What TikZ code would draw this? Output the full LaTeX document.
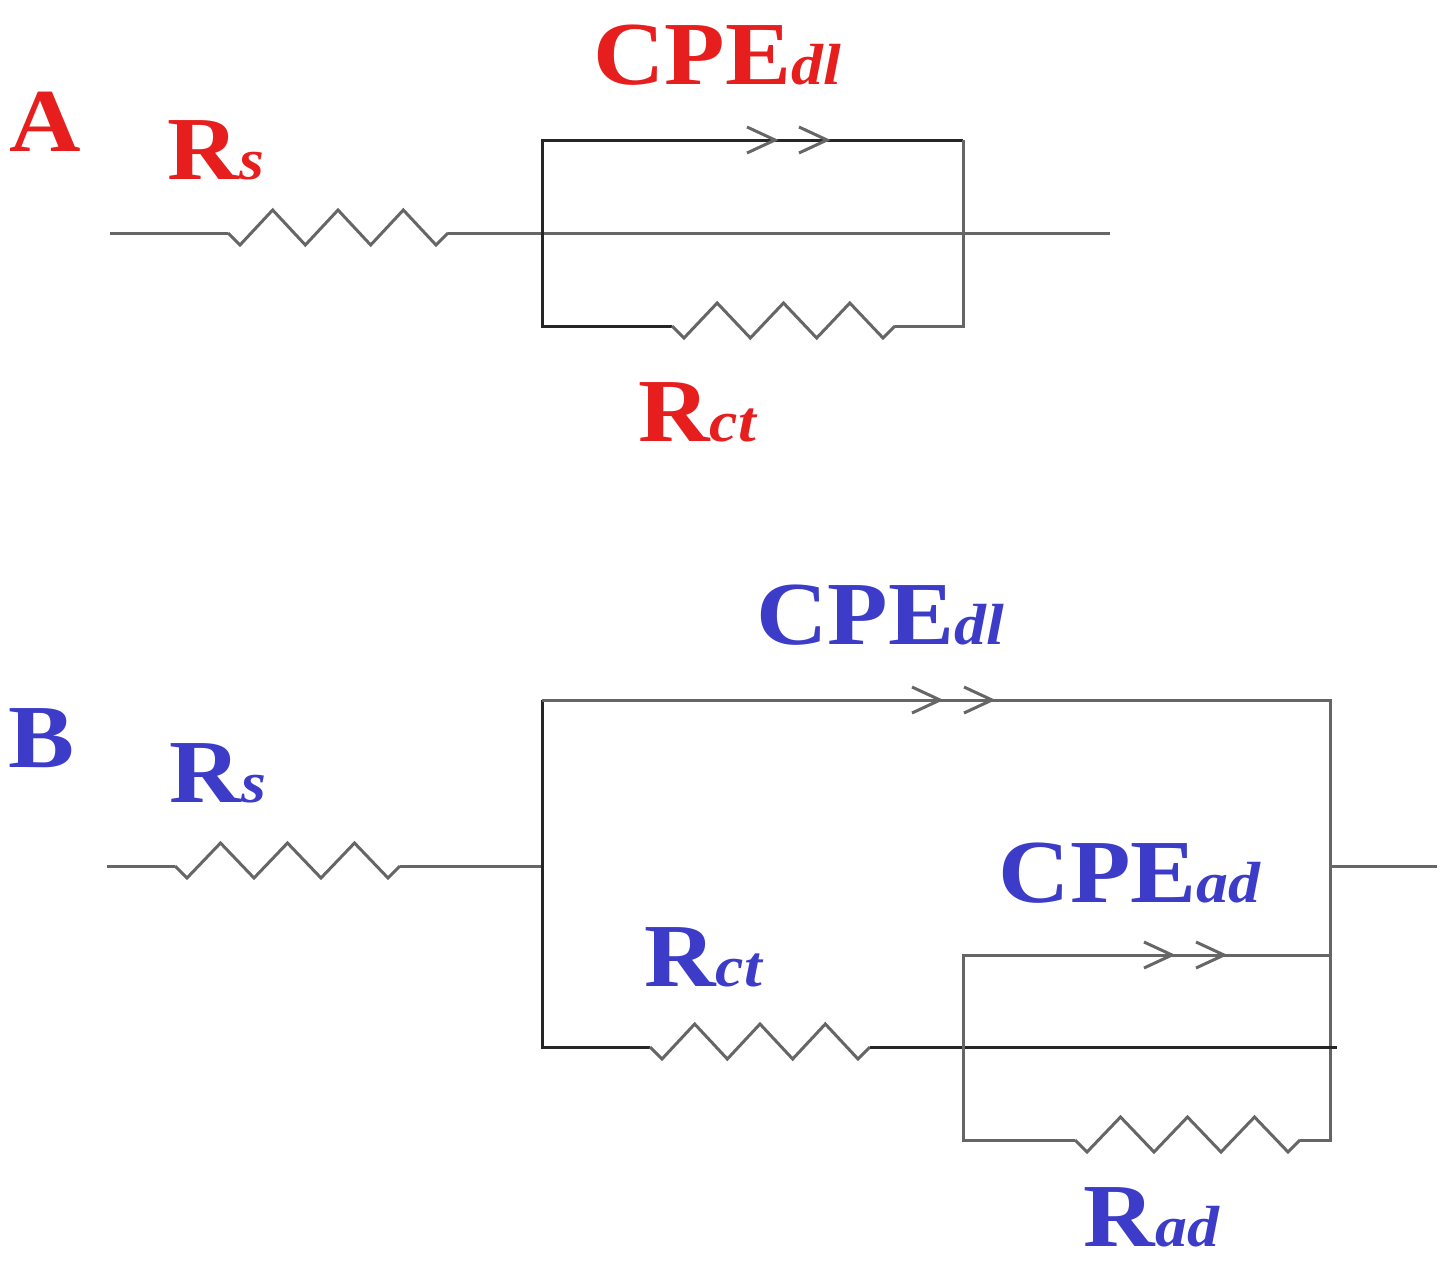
\documentclass[tikz,border=0pt]{standalone}
\usepackage{fontspec}
\setmainfont{Liberation Serif}
\begin{document}
\begin{tikzpicture}[x=1pt,y=-1pt,
  w/.style={line width=3pt,color=black!60},
  wd/.style={line width=3pt,color=black!85},
  lab/.style={font=\fontsize{90}{90}\selectfont\bfseries,inner sep=0pt,xscale=1.1},
  red/.style={text={rgb,255:red,230;green,30;blue,30}},
  blu/.style={text={rgb,255:red,60;green,60;blue,200}}]
\useasboundingbox (0,0) rectangle (1455,1271);
\newcommand{\subx}[1]{\textit{\fontsize{58}{58}\selectfont #1}}
\newcommand{\zz}[3]{% x1 x2 y
  \draw[w] (#1,#3) -- ++(12,12) -- ++({((#2-#1)-24)/6},-35) -- ++({((#2-#1)-24)/6},35)
    -- ++({((#2-#1)-24)/6},-35) -- ++({((#2-#1)-24)/6},35)
    -- ++({((#2-#1)-24)/6},-35) -- ++({((#2-#1)-24)/6},35) -- (#2,#3);}
\newcommand{\chev}[2]{% x y (tip of first)
  \draw[w] (#1-28,#2-13) -- (#1,#2) -- (#1-28,#2+13);
  \draw[w] (#1+24,#2-13) -- (#1+52,#2) -- (#1+24,#2+13);}
% Circuit A
\draw[w] (110,233) -- (228,233); \zz{228}{448}{233}
\draw[w] (448,233) -- (1110,233);
\draw[wd] (963,140) -- (542,140) -- (542,326) -- (672,326);
\draw[w] (963,140) -- (963,326) -- (895,326);
\zz{672}{895}{326}
\chev{775}{140}
\node[lab,red] at (45,122) {A};
\node[lab,red] at (216,150) {R\subx{s}};
\node[lab,red] at (717,55) {CPE\subx{dl}};
\node[lab,red] at (698,412) {R\subx{ct}};
% Circuit B
\draw[w] (107,866) -- (175,866); \zz{175}{400}{866}
\draw[w] (400,866) -- (542,866);
\draw[w] (1330,866) -- (1437,866);
\draw[wd] (542,700) -- (542,1047) -- (650,1047);
\draw[w] (542,700) -- (1330,700) -- (1330,1140) -- (1300,1140);
\zz{650}{870}{1047}
\draw[wd] (870,1047) -- (1337,1047);
\draw[w] (1330,955) -- (963,955) -- (963,1140) -- (1075,1140);
\zz{1075}{1300}{1140}
\chev{940}{700}
\chev{1172}{955}
\node[lab,blu] at (42,738) {B};
\node[lab,blu] at (218,773) {R\subx{s}};
\node[lab,blu] at (880,615) {CPE\subx{dl}};
\node[lab,blu] at (1130,873) {CPE\subx{ad}};
\node[lab,blu] at (704,957) {R\subx{ct}};
\node[lab,blu] at (1152,1217) {R\subx{ad}};
\end{tikzpicture}
\end{document}
